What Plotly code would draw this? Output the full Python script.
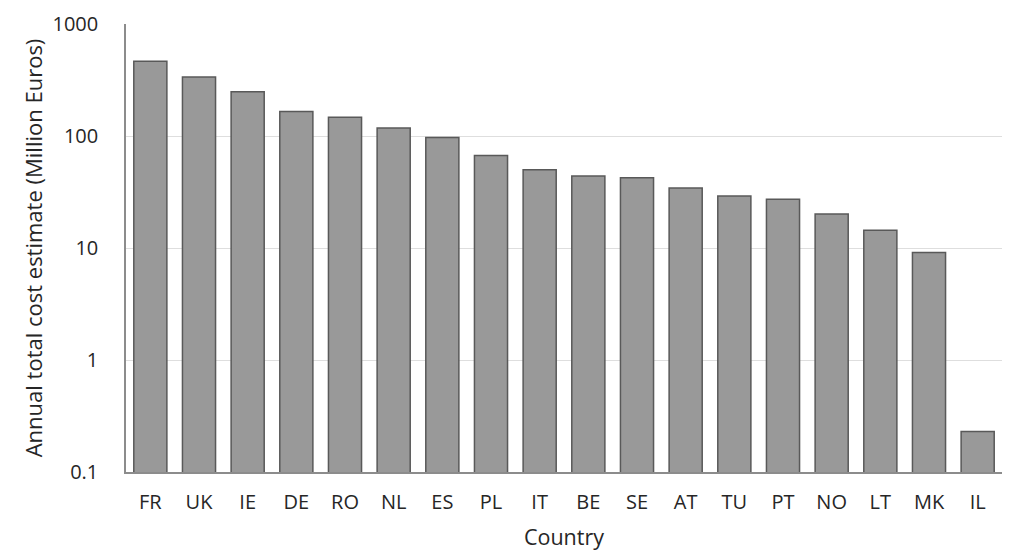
import plotly.graph_objects as go

countries = ["FR", "UK", "IE", "DE", "RO", "NL", "ES", "PL", "IT", "BE", "SE",
             "AT", "TU", "PT", "NO", "LT", "MK", "IL"]
costs = [465, 337, 249, 166, 147, 118, 97, 67, 50, 44, 42.4,
         34.4, 29.1, 27.2, 20.1, 14.4, 9.1, 0.23]

tick_vals = [0.1, 1, 10, 100, 1000]
tick_text = ["0.1", "1", "10", "100", "1000"]

fig = go.Figure(go.Bar(
    x=countries, y=costs,
    marker=dict(color="#999999", line=dict(color="#595959", width=1.5)),
))

font_family = "Open Sans, Lato, sans-serif"
# page body has an 8px margin, so the figure is sized/positioned to compensate
fig.update_layout(
    width=1002, height=546,
    margin=dict(l=118, r=8, t=16, b=79),
    paper_bgcolor="white", plot_bgcolor="white",
    bargap=0.32,
    showlegend=False,
    font=dict(family=font_family, size=20, color="#262626"),
)
fig.update_xaxes(
    showline=True, linecolor="#8c8c8c", linewidth=1.5,
    ticks="", showgrid=False,
    ticklabelstandoff=11,
    title=dict(text="Country", font=dict(size=21.5), standoff=16),
    tickfont=dict(size=20),
)
fig.update_yaxes(
    type="log", range=[-1, 3.0005],
    tickvals=tick_vals, ticktext=tick_text,
    showline=True, linecolor="#8c8c8c", linewidth=1.5,
    showgrid=True, gridcolor="#dedede", gridwidth=1,
    ticks="", ticklabelstandoff=22, ticklabeloverflow="allow",
    automargin="left",
    title=dict(text="Annual total cost estimate (Million Euros)", font=dict(size=22), standoff=4),
    tickfont=dict(size=20),
    zeroline=False,
)
fig.write_html("out.html")
